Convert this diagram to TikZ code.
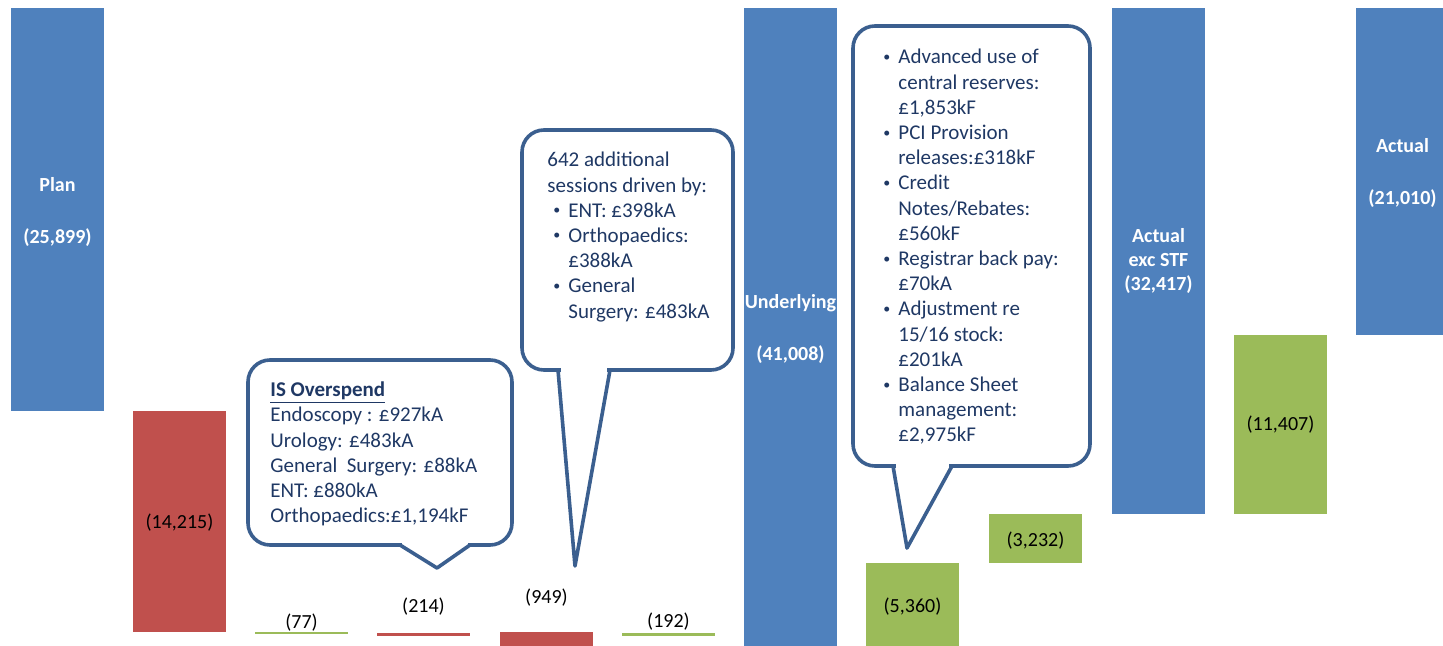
\documentclass[tikz,border=0pt]{standalone}
\usepackage{fontspec}
\setmainfont{Carlito}
\usepackage{tikz}

\definecolor{barblue}{HTML}{4F81BD}
\definecolor{barred}{HTML}{C0504D}
\definecolor{bargreen}{HTML}{9BBB59}
\definecolor{callline}{HTML}{3B5F8F}
\definecolor{calltext}{HTML}{1F3864}

\newcommand\bul{\makebox[7.5pt][l]{\raisebox{0.25ex}{\fontsize{7}{7}\selectfont\textbullet}}}
\newcommand\cont{\hspace*{7.5pt}}

\tikzset{
    total/.style={font=\fontsize{10}{12}\selectfont\bfseries, text=white, align=center, inner sep=0pt},
    delta/.style={font=\fontsize{10}{12}\selectfont, text=black, inner sep=0pt},
    callout/.style={draw=callline, line width=1.8pt, line cap=round, line join=round},
    note/.style={font=\fontsize{10.5}{12.6}\selectfont, text=calltext, align=left, inner sep=0pt, anchor=west},
}

\begin{document}
\begin{tikzpicture}[x=0.5pt,y=-0.5pt]
    \useasboundingbox (0,0) rectangle (1443,646);
    \def\W{93}
    % bars: left / top / bottom / colour
    \foreach \x/\top/\bot/\col in {
        11/8/411/barblue, 133/411/632/barred, 255/632/633.5/bargreen,
        377/633/636/barred, 500/632/649/barred, 622/633/636/bargreen,
        744/8/649/barblue, 866/563/649/bargreen, 989/514/563/bargreen,
        1112/8/514/barblue, 1234/335/514/bargreen, 1356/8/335/barblue}{
            \fill [\col] (\x,\top) rectangle (\x+\W,\bot);
        }

    % labels
    \node[total] (plan) at (57.5,212) {Plan\\[14pt](25,899)};
    \node[delta] (nhsloss) at (179.5,523) {(14,215)};
    \node[delta] (endo) at (301.5,623) {(77)};
    \node[delta] (isover) at (423.5,607) {(214)};
    \node[delta] (sessions) at (546.5,598) {(949)};
    \node[delta] (other) at (668.5,622) {(192)};
    \node[total] (underlying) at (790.5,329) {Underlying\\[14pt](41,008)};
    \node[delta] (reserves) at (912.5,607) {(5,360)};
    \node[delta] (misc) at (1035.5,541) {(3,232)};
    \node[total] (excstf) at (1158.5,261) {Actual\\exc STF\\(32,417)};
    \node[delta] (stf) at (1280.5,425) {(11,407)};
    \node[total] (actual) at (1402.5,173) {Actual\\[14pt](21,010)};

    % callout: IS overspend
    \coordinate (tipA) at (437,568);
    \draw[callout, rounded corners=11pt] (248,360) rectangle (512,545);
    \fill[white] (402,541) rectangle (468,549);
    \draw[callout] (400,545) -- (tipA) -- (470,545);
    \node[note] (isnote) at (270,454) {\underline{\textbf{IS Overspend}}\\
        Endoscopy : £927kA\\
        Urology: £483kA\\
        General\ \ Surgery: £88kA\\
        ENT:\ £880kA\\
        Orthopaedics:£1,194kF};

    % callout: additional sessions
    \coordinate (tipB) at (575,566);
    \draw[callout, rounded corners=11pt] (522,130) rectangle (733,370);
    \fill[white] (561,366) rectangle (607,374);
    \draw[callout] (558,370) -- (tipB) -- (610,370);
    \node[note] (sessnote) at (547,237) {642 additional\\
        sessions driven by:\\
        \hspace*{3pt}\bul ENT:\ £398kA\\
        \hspace*{3pt}\bul Orthopaedics:\\
        \hspace*{3pt}\cont £388kA\\
        \hspace*{3pt}\bul General\\
        \hspace*{3pt}\cont Surgery: £483kA};

    % callout: reserves and releases
    \coordinate (tipC) at (907,548);
    \draw[callout, rounded corners=11pt] (853,26) rectangle (1090,466);
    \fill[white] (896,462) rectangle (949,470);
    \draw[callout] (893,466) -- (tipC) -- (952,466);
    \node[note] (resnote) at (883,247) {\bul Advanced use of\\
        \cont central reserves:\\
        \cont £1,853kF\\
        \bul PCI Provision\\
        \cont releases:£318kF\\
        \bul Credit\\
        \cont Notes/Rebates:\\
        \cont £560kF\\
        \bul Registrar back pay:\\
        \cont £70kA\\
        \bul Adjustment re\\
        \cont 15/16 stock:\\
        \cont £201kA\\
        \bul Balance Sheet\\
        \cont management:\\
        \cont £2,975kF};
\end{tikzpicture}
\end{document}
